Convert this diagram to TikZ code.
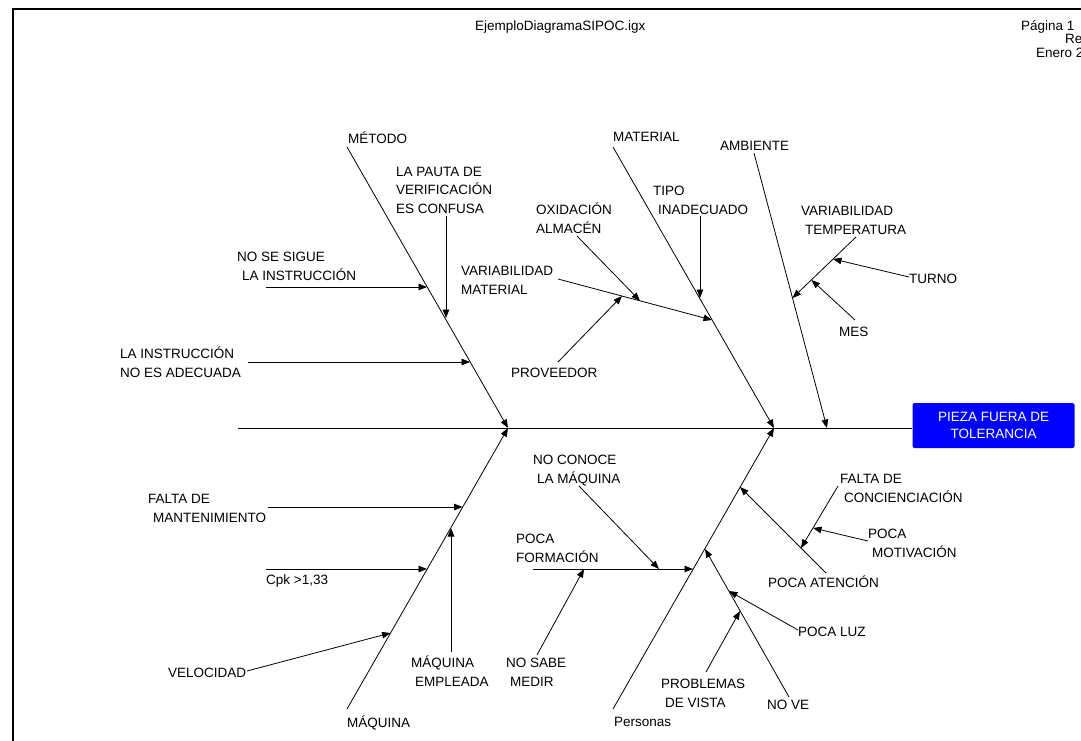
\documentclass[tikz,border=0pt]{standalone}
\usepackage{fontspec}
\setmainfont{Liberation Sans}
\usetikzlibrary{arrows.meta}
\begin{document}
\begin{tikzpicture}[x=1pt,y=-1pt,
  lbl/.style={anchor=base west, inner sep=0pt, align=left, font=\fontsize{13.5}{18.5}\selectfont},
  hdr/.style={anchor=base west, inner sep=0pt, font=\fontsize{13.5}{14}\selectfont},
  bone/.style={line width=0.8pt},
  arr/.style={line width=0.8pt, -{Triangle[length=8.5pt,width=6.5pt]}},
  frameline/.style={line width=2.4pt},
  effect/.style={fill=blue, rounded corners=2pt, text=white, align=center,
    minimum width=162pt, minimum height=45pt, inner sep=0pt,
    font=\fontsize{13.5}{17}\selectfont}]
\useasboundingbox (0,0) rectangle (1081,741);
\clip (0,0) rectangle (1081,741);

% frame
\coordinate (fBL) at (13,742);
\coordinate (fTL) at (13,9);
\coordinate (fTR) at (1082,9);
\draw[frameline] (fBL) -- (fTL) -- (fTR);

% header
\node[hdr] (hfile) at (475,31) {EjemploDiagramaSIPOC.igx};
\node[hdr] (hpag) at (1021,31) {Página 1};
\node[hdr] (hrev) at (1065,44) {Re};
\node[hdr] (hdate) at (1036,58) {Enero 2};

% effect box and spine
\node[effect] (effect) at (993.5,425.5) {PIEZA FUERA DE\\TOLERANCIA};
\coordinate (spS) at (238,428);
\draw[bone] (spS) -- (spS -| effect.west);

\coordinate (jL) at (508,428);
\coordinate (jR) at (774,428);
\coordinate (jA) at (827,428);

% main bones (multi-line labels are placed by the baseline of their last line)
\node[lbl] (tMetodo) at (348,143) {MÉTODO};
\coordinate (bMetodo) at (347,147);
\draw[arr] (bMetodo) -- (jL);

\node[lbl] (tMaquina) at (347,727) {MÁQUINA};
\coordinate (bMaquina) at (347,709);
\draw[arr] (bMaquina) -- (jL);

\node[lbl] (tMaterial) at (613,142) {MATERIAL};
\coordinate (bMaterial) at (613,147);
\draw[arr] (bMaterial) -- (jR);

\node[lbl] (tPersonas) at (614,726) {Personas};
\coordinate (bPersonas) at (613,709);
\draw[arr] (bPersonas) -- (jR);

\node[lbl] (tAmbiente) at (720,150) {AMBIENTE};
\coordinate (bAmbiente) at (754,153);
\draw[arr] (bAmbiente) -- (jA);

% ---- Metodo causes
\node[lbl] (tPauta) at (396,213) {LA PAUTA DE\\VERIFICACIÓN\\ES CONFUSA};
\coordinate (sPauta) at (446,216);
\coordinate (ePauta) at (446,318);
\draw[arr] (sPauta) -- (ePauta);

\node[lbl] (tSigue) at (237,280) {NO SE SIGUE\\\hspace*{5pt}LA INSTRUCCIÓN};
\coordinate (sSigue) at (266,287);
\coordinate (eSigue) at (427,287);
\draw[arr] (sSigue) -- (eSigue);

\node[lbl] (tInstr) at (120,377) {LA INSTRUCCIÓN\\NO ES ADECUADA};
\coordinate (sInstr) at (248,362);
\coordinate (eInstr) at (470,362);
\draw[arr] (sInstr) -- (eInstr);

% ---- Material causes
\node[lbl] (tTipo) at (653,214) {TIPO\\\hspace*{5pt}INADECUADO};
\coordinate (sTipo) at (700,216);
\coordinate (eTipo) at (700,298);
\draw[arr] (sTipo) -- (eTipo);

\node[lbl] (tVarMat) at (461,294) {VARIABILIDAD\\MATERIAL};
\coordinate (sVarMat) at (558,279);
\coordinate (eVarMat) at (712,320);
\draw[arr] (sVarMat) -- (eVarMat);

\node[lbl] (tOxid) at (536,233) {OXIDACIÓN\\ALMACÉN};
\coordinate (sOxid) at (577,236);
\coordinate (eOxid) at (640,300.8);
\draw[arr] (sOxid) -- (eOxid);

\node[lbl] (tProv) at (511,377) {PROVEEDOR};
\coordinate (sProv) at (558,362);
\coordinate (eProv) at (622,296);
\draw[arr] (sProv) -- (eProv);

% ---- Ambiente causes
\node[lbl] (tVarTemp) at (801,234) {VARIABILIDAD\\\hspace*{4pt}TEMPERATURA};
\coordinate (sVarTemp) at (856,237);
\coordinate (eVarTemp) at (792.5,298);
\draw[arr] (sVarTemp) -- (eVarTemp);

\node[lbl] (tTurno) at (909,283) {TURNO};
\coordinate (sTurno) at (909,277);
\coordinate (eTurno) at (833,259);
\draw[arr] (sTurno) -- (eTurno);

\node[lbl] (tMes) at (839,336) {MES};
\coordinate (sMes) at (855,320);
\coordinate (eMes) at (811.5,280);
\draw[arr] (sMes) -- (eMes);

% ---- Maquina causes
\node[lbl] (tMant) at (148,522) {FALTA DE\\\hspace*{5pt}MANTENIMIENTO};
\coordinate (sMant) at (268,507);
\coordinate (eMant) at (462.5,507);
\draw[arr] (sMant) -- (eMant);

\node[lbl] (tCpk) at (266,584) {Cpk >1,33};
\coordinate (sCpk) at (266,569);
\coordinate (eCpk) at (427,569);
\draw[arr] (sCpk) -- (eCpk);

\node[lbl] (tVel) at (168,677) {VELOCIDAD};
\coordinate (sVel) at (247,671);
\coordinate (eVel) at (390.5,633);
\draw[arr] (sVel) -- (eVel);

\node[lbl] (tEmpl) at (411,686) {MÁQUINA\\\hspace*{4pt}EMPLEADA};
\coordinate (sEmpl) at (451,652);
\coordinate (eEmpl) at (451,528);
\draw[arr] (sEmpl) -- (eEmpl);

% ---- Personas causes
\node[lbl] (tConoce) at (533,483) {NO CONOCE\\\hspace*{4pt}LA MÁQUINA};
\coordinate (sConoce) at (579,486);
\coordinate (eConoce) at (659,569);
\draw[arr] (sConoce) -- (eConoce);

\node[lbl] (tForm) at (516,562) {POCA\\FORMACIÓN};
\coordinate (sForm) at (533,569);
\coordinate (eForm) at (693,569);
\draw[arr] (sForm) -- (eForm);

\node[lbl] (tSabe) at (506,686) {NO SABE\\\hspace*{4pt}MEDIR};
\coordinate (sSabe) at (537,655);
\coordinate (eSabe) at (584,569);
\draw[arr] (sSabe) -- (eSabe);

\node[lbl] (tAtenc) at (768,587) {POCA ATENCIÓN};
\coordinate (sAtenc) at (826,573);
\coordinate (eAtenc) at (740,487);
\draw[arr] (sAtenc) -- (eAtenc);

\node[lbl] (tConc) at (840,502) {FALTA DE\\\hspace*{4pt}CONCIENCIACIÓN};
\coordinate (sConc) at (838,486);
\coordinate (eConc) at (801,548);
\draw[arr] (sConc) -- (eConc);

\node[lbl] (tMotiv) at (868,557) {POCA\\\hspace*{4pt}MOTIVACIÓN};
\coordinate (sMotiv) at (868,541);
\coordinate (eMotiv) at (813,528);
\draw[arr] (sMotiv) -- (eMotiv);

\node[lbl] (tNoVe) at (767,709) {NO VE};
\coordinate (sNoVe) at (789,697);
\coordinate (eNoVe) at (705,549);
\draw[arr] (sNoVe) -- (eNoVe);

\node[lbl] (tLuz) at (798,636) {POCA LUZ};
\coordinate (sLuz) at (798,630);
\coordinate (eLuz) at (729,591);
\draw[arr] (sLuz) -- (eLuz);

\node[lbl] (tVista) at (661,707) {PROBLEMAS\\\hspace*{4pt}DE VISTA};
\coordinate (sVista) at (706,672);
\coordinate (eVista) at (740,611);
\draw[arr] (sVista) -- (eVista);

\end{tikzpicture}
\end{document}
